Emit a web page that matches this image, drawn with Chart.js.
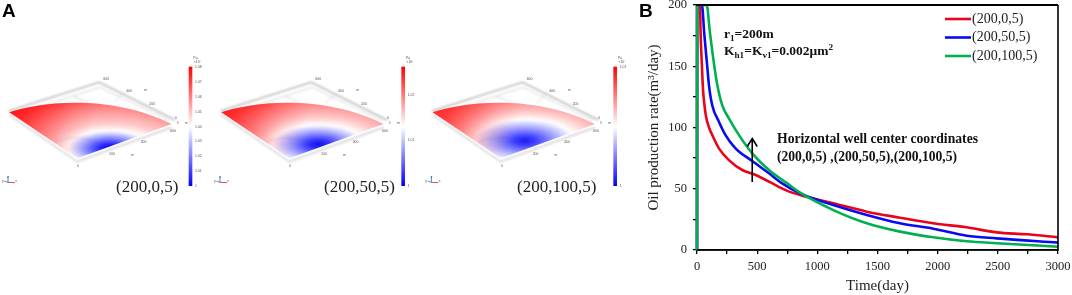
<!DOCTYPE html>
<html><head><meta charset="utf-8">
<script src="https://cdn.jsdelivr.net/npm/chart.js@4"></script>
<style>html,body{margin:0;padding:0;background:#fff}canvas{display:block}</style>
</head><body><canvas id="c" width="1072" height="295"></canvas>
<script>
const seriesNames = ['(200,0,5)', '(200,50,5)', '(200,100,5)'];
const redDays   = [0,1,25,30,41,50,60,75,100,127,182,265,376,487,598,746,857,1133,1411,1687,1963,2241,2490,2739,3000];
const redRate   = [0,200,200,177,150,131,120,109,100,93.8,83,73.4,65.3,61.2,55.8,48.5,44.9,38.1,31.3,26.4,21.8,18.5,14.4,12.8,10.3];
const blueDays  = [0,1,41,60,85,100,127,182,237,320,459,598,708,857,1133,1411,1687,1963,2241,2490,3000];
const blueRate  = [0,200,200,177,150,134,118,104.7,93.8,83,72.6,62.6,54.4,46.2,36.7,28.6,21.8,17.4,11.7,9.5,6];
const greenDays = [0,1,80,108,144,170,210,265,349,459,598,750,857,1133,1411,1687,1963,2241,2490,3000];
const greenRate = [0,200,200,177,150,134,118,107.5,93.8,78.9,65.3,54.4,46.8,32.6,21.8,15,10.4,7.1,5.5,2.7];
const xTicksMajor = 500, yTicksMajor = 50;
const colors = ['#e8051c', '#0a0af0', '#00b050'];
const serif = '"Liberation Serif"';

const panels = [
  {ox:0,   label:'(200,0,5)',   lx:116, bar:566, center:[330,295], white:125, core:['#0000f0','#2020ff','#8c8cff'],
   cb:[['1.08',52],['1.07',96],['1.06',142],['1.05',185],['1.04',230],['1.03',274],['1.02',319],['1.01',364],['1',408]]},
  {ox:636, label:'(200,50,5)',  lx:324, bar:568, center:[320,283], white:138, core:['#1010e8','#3030ff','#9898ff'],
   cb:[['1.02',135],['1.01',270],['1',408]]},
  {ox:1270,label:'(200,100,5)', lx:517, bar:570, center:[305,272], white:150, core:['#1818f0','#4040ff','#a0a0ff'],
   cb:[['1.01',50],['1',408]]}
];

function drawPanel(ctx,p){
  ctx.save();
  ctx.translate(p.ox/3,50);
  ctx.scale(1/3,1/3);
  ctx.save(); ctx.filter='blur(0.8px)';
  ctx.strokeStyle='#b8b8b8'; ctx.lineWidth=4.5;
  ctx.beginPath(); ctx.moveTo(25,183); ctx.lineTo(298,97); ctx.lineTo(525,210); ctx.stroke();
  ctx.strokeStyle='#cccccc'; ctx.lineWidth=2.5;
  ctx.beginPath(); ctx.moveTo(120,170); ctx.lineTo(300,112); ctx.lineTo(510,212);
  ctx.moveTo(220,140); ctx.lineTo(265,157); ctx.moveTo(370,130); ctx.lineTo(340,160); ctx.stroke();
  ctx.strokeStyle='#c4c4c4'; ctx.lineWidth=3.5;
  ctx.beginPath(); ctx.moveTo(28,195); ctx.lineTo(232,335); ctx.lineTo(515,232); ctx.stroke();
  ctx.save();
  ctx.beginPath(); ctx.moveTo(28,187); ctx.bezierCurveTo(120,155,330,130,515,222);
  ctx.lineTo(232,325); ctx.closePath(); ctx.clip();
  ctx.save();
  ctx.translate(p.center[0],p.center[1]); ctx.scale(1,0.42);
  const g=ctx.createRadialGradient(0,0,0,0,0,400), w=p.white;
  g.addColorStop(0,p.core[0]); g.addColorStop(.22*w/400,p.core[1]); g.addColorStop(.6*w/400,p.core[2]);
  g.addColorStop(w/400,'#ffffff'); g.addColorStop((w+55)/400,'#ffc8c8'); g.addColorStop(.72,'#ff8888'); g.addColorStop(.9,'#ff5050'); g.addColorStop(1,'#ff3030');
  ctx.fillStyle=g; ctx.fillRect(-700,-1100,1400,2200);
  ctx.restore();
  const lg=ctx.createLinearGradient(80,150,400,265);
  lg.addColorStop(0,'rgba(255,0,0,.55)'); lg.addColorStop(.42,'rgba(255,0,0,.12)'); lg.addColorStop(.62,'rgba(255,0,0,0)');
  ctx.fillStyle=lg; ctx.fillRect(0,100,560,260);
  ctx.restore();
  ctx.strokeStyle='rgba(90,60,90,.35)'; ctx.lineWidth=1.5;
  ctx.beginPath(); ctx.moveTo(165,275); ctx.quadraticCurveTo(230,250,290,277); ctx.quadraticCurveTo(315,288,335,292); ctx.stroke();
  ctx.restore();
  const cg=ctx.createLinearGradient(0,50,0,408);
  cg.addColorStop(0,'#ff0000'); cg.addColorStop(.5,'#ffffff'); cg.addColorStop(1,'#0000ff');
  ctx.fillStyle=cg; ctx.fillRect(p.bar,50,11,358);
  ctx.lineWidth=2.5;
  [['#d02060',45,398],['#20a040',13,393],['#3060d0',24,378]].forEach(a=>{ctx.strokeStyle=a[0];ctx.beginPath();ctx.moveTo(24,397);ctx.lineTo(a[1],a[2]);ctx.stroke();});
  ctx.fillStyle='#555'; ctx.font='10.5px "Liberation Sans"'; ctx.textAlign='left'; ctx.textBaseline='middle';
  [['600',310,87],['400',378,123],['m',433,120],['200',448,163],['0',525,205],['5',530,218],['m',555,218],['600',510,242],['400',422,276],['200',328,311],['m',393,316],['0',232,348],['x',46,394],['y',6,394],['z',22,380]]
    .forEach(t=>ctx.fillText(t[0],t[1],t[2]));
  ctx.fillText('Pa',p.bar+14,25); ctx.fillText('\u00d710\u2077',p.bar+15,37);
  p.cb.forEach(t=>ctx.fillText(t[0],p.bar+19,t[1]));
  ctx.restore();
  ctx.fillStyle='#222'; ctx.font='17px '+serif; ctx.textAlign='left'; ctx.textBaseline='alphabetic';
  ctx.fillText(p.label,p.lx,192);
}

function runs(ctx,x,y,parts,size){
  parts.forEach(([s,k])=>{
    const sz=k?size*0.68:size, dy=k==='sub'?3:k==='sup'?-5:0;
    ctx.font='bold '+sz+'px '+serif; ctx.fillText(s,x,y+dy); x+=ctx.measureText(s).width;
  });
}

const decor={id:'decor',
  beforeDraw(chart){
    const ctx=chart.ctx;
    ctx.save(); ctx.fillStyle='#fff'; ctx.fillRect(0,0,1072,295);
    panels.forEach(p=>drawPanel(ctx,p));
    ctx.fillStyle='#000'; ctx.font='bold 19px "Liberation Sans"'; ctx.textBaseline='alphabetic'; ctx.textAlign='left';
    ctx.fillText('A',2,17); ctx.fillText('B',639,17);
    ctx.restore();
  },
  afterDraw(chart){
    const ctx=chart.ctx,a=chart.chartArea,xs=chart.scales.x,ys=chart.scales.y;
    ctx.save();
    ctx.strokeStyle='#000'; ctx.lineWidth=2; ctx.beginPath(); ctx.moveTo(a.left-1,a.top); ctx.lineTo(a.right,a.top); ctx.stroke();
    ctx.lineWidth=1.6; ctx.beginPath(); ctx.moveTo(a.right,a.top); ctx.lineTo(a.right,a.bottom); ctx.lineTo(a.left,a.bottom); ctx.stroke();
    ctx.textBaseline='middle'; ctx.textAlign='left';
    seriesNames.forEach((n,i)=>{
      const y=19+i*18.5;
      ctx.strokeStyle=colors[i]; ctx.lineWidth=2.6; ctx.beginPath(); ctx.moveTo(945,y); ctx.lineTo(971,y); ctx.stroke();
      ctx.fillStyle='#222'; ctx.font='14px '+serif; ctx.fillText(n,972,y);
    });
    const ax=xs.getPixelForValue(459), y0=ys.getPixelForValue(55.5), y1=ys.getPixelForValue(91);
    ctx.strokeStyle='#000'; ctx.lineWidth=1.6; ctx.beginPath();
    ctx.moveTo(ax,y0); ctx.lineTo(ax,y1); ctx.moveTo(ax-5,y1+8); ctx.lineTo(ax,y1); ctx.lineTo(ax+5,y1+8); ctx.stroke();
    ctx.fillStyle='#111'; ctx.textBaseline='alphabetic';
    runs(ctx,724,38,[['r'],['1','sub'],['=200m']],13.5);
    runs(ctx,724,55,[['K'],['h1','sub'],['=K'],['v1','sub'],['=0.002\u03bcm'],['2','sup']],13.5);
    runs(ctx,777,143,[['Horizontal well center coordinates']],13.7);
    runs(ctx,777,161,[['(200,0,5) ,(200,50,5),(200,100,5)']],13.6);
    ctx.restore();
  }
};

const mk=(d,v)=>d.map((x,i)=>({x,y:v[i]}));
new Chart(document.getElementById('c'),{
  type:'line',
  data:{datasets:[
    {label:seriesNames[0],data:mk(redDays,redRate),borderColor:colors[0],order:3},
    {label:seriesNames[1],data:mk(blueDays,blueRate),borderColor:colors[1],order:2},
    {label:seriesNames[2],data:mk(greenDays,greenRate),borderColor:colors[2],order:1}
  ].map(d=>Object.assign(d,{borderWidth:2.6,pointRadius:0,fill:false,cubicInterpolationMode:'monotone',clip:{left:3,top:0,right:0,bottom:0}}))},
  options:{
    responsive:false,animation:false,
    layout:{padding:{left:645,top:5,right:14,bottom:0}},
    plugins:{legend:{display:false},tooltip:{enabled:false},title:{display:false}},
    scales:{
      x:{type:'linear',min:0,max:3000,
        afterFit(s){s.height=45;s.paddingLeft=0;s.paddingRight=0;},
        grid:{drawOnChartArea:false,drawTicks:true,tickLength:4,color:'#000',tickColor:'#000',lineWidth:1.3},
        border:{color:'#000',width:1.6},
        ticks:{stepSize:250,autoSkip:false,maxRotation:0,padding:5,color:'#222',font:{family:serif,size:12.5},
          callback:v=>v%xTicksMajor===0?String(v):''},
        title:{display:true,text:'Time(day)',color:'#222',font:{family:serif,size:15},padding:{top:0,bottom:0}}},
      y:{min:0,max:200,
        afterFit(s){s.width=52;s.paddingTop=0;s.paddingBottom=0;},
        grid:{drawOnChartArea:false,drawTicks:true,tickLength:4,color:'#000',tickColor:'#000',lineWidth:1.3},
        border:{color:'#000',width:1.6},
        ticks:{stepSize:25,autoSkip:false,padding:6,color:'#222',font:{family:serif,size:12.5},
          callback:v=>v%yTicksMajor===0?String(v):''},
        title:{display:true,text:'Oil production rate(m\u00b3/day)',color:'#222',font:{family:serif,size:15},padding:{top:0,bottom:2}}}
    }
  },
  plugins:[decor]
});
</script></body></html>
